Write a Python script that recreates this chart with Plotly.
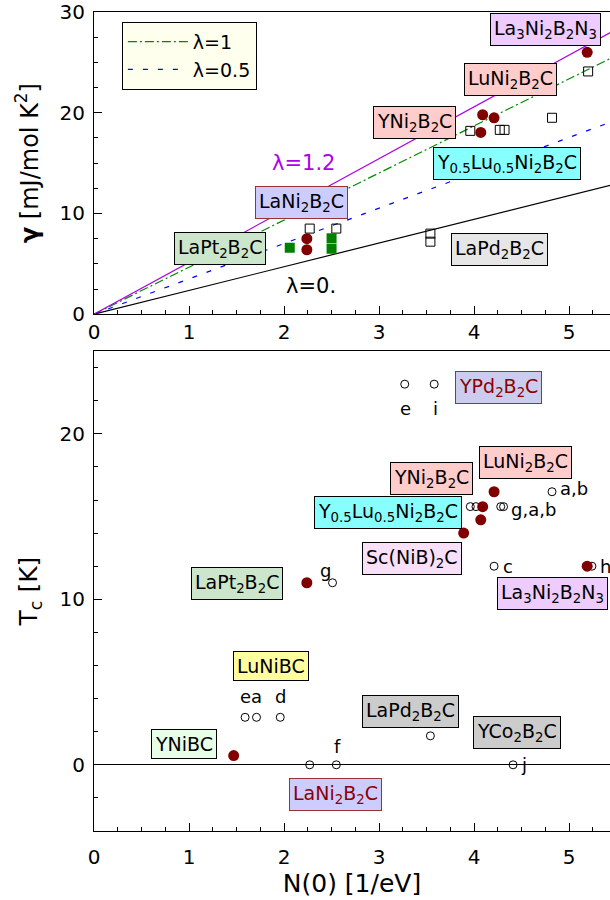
import plotly.graph_objects as go

# ---------------- data: top panel (gamma vs N(0)) ----------------
# theoretical lines gamma = c (1+lambda) N(0); values read at N(0)=5.5
line_N = [0, 5.5]
line_lambda = ["λ=0.", "λ=0.5", "λ=1", "λ=1.2"]
line_gamma_end = [12.96, 19.3, 25.7, 28.3]

top_red_N = [2.24, 2.24, 5.19, 4.09, 4.21, 4.07]
top_red_g = [7.5, 6.4, 26.0, 19.8, 19.5, 18.05]

top_sq_N = [5.20, 4.82, 3.96, 4.27, 4.32, 2.27, 2.55, 3.54, 3.54]
top_sq_g = [24.1, 19.5, 18.2, 18.3, 18.3, 8.5, 8.5, 8.0, 7.2]

top_green_N = [2.06, 2.50, 2.50]
top_green_g = [6.6, 7.55, 6.5]

# ---------------- data: bottom panel (Tc vs N(0)) ----------------
bot_red_N = [4.21, 4.09, 4.07, 3.89, 5.19, 2.24, 1.47]
bot_red_T = [16.5, 15.6, 14.8, 14.0, 12.0, 11.0, 0.56]

bot_open_N = [3.27, 3.58, 4.82, 3.96, 4.02, 4.28, 4.31, 4.21, 5.24, 2.51,
              1.59, 1.71, 1.96, 2.27, 2.55, 3.54, 4.41]
bot_open_T = [23.0, 23.0, 16.5, 15.6, 15.6, 15.6, 15.6, 12.0, 12.0, 11.0,
              2.87, 2.87, 2.87, 0.0, 0.0, 1.75, 0.0]

# compound labels: text, x, y, background, text colour, border colour
top_labels = [
    ("La<sub>3</sub>Ni<sub>2</sub>B<sub>2</sub>N<sub>3</sub>", 4.75, 28.3, "#eeccff", "black", "black"),
    ("LuNi<sub>2</sub>B<sub>2</sub>C", 4.38, 23.3, "#ffcccc", "black", "black"),
    ("YNi<sub>2</sub>B<sub>2</sub>C", 3.37, 19.0, "#ffcccc", "black", "black"),
    ("Y<sub>0.5</sub>Lu<sub>0.5</sub>Ni<sub>2</sub>B<sub>2</sub>C", 4.35, 14.95, "#88ffff", "black", "black"),
    ("LaPd<sub>2</sub>B<sub>2</sub>C", 4.27, 6.4, "#e6e6e6", "black", "black"),
    ("LaNi<sub>2</sub>B<sub>2</sub>C", 2.18, 11.1, "#ccccff", "black", "#993333"),
    ("LaPt<sub>2</sub>B<sub>2</sub>C", 1.33, 6.5, "#cce6cc", "black", "black"),
]
bot_labels = [
    ("YPd<sub>2</sub>B<sub>2</sub>C", 4.26, 22.8, "#ccccee", "#8b0000", "#993333"),
    ("LuNi<sub>2</sub>B<sub>2</sub>C", 4.54, 18.25, "#ffcccc", "black", "black"),
    ("YNi<sub>2</sub>B<sub>2</sub>C", 3.55, 17.3, "#ffcccc", "black", "black"),
    ("Y<sub>0.5</sub>Lu<sub>0.5</sub>Ni<sub>2</sub>B<sub>2</sub>C", 3.09, 15.25, "#88ffff", "black", "black"),
    ("Sc(NiB)<sub>2</sub>C", 3.35, 12.45, "#f8e0f8", "black", "black"),
    ("La<sub>3</sub>Ni<sub>2</sub>B<sub>2</sub>N<sub>3</sub>", 4.82, 10.33, "#eeccff", "black", "black"),
    ("LaPt<sub>2</sub>B<sub>2</sub>C", 1.51, 10.95, "#cce6cc", "black", "black"),
    ("LuNiBC", 1.86, 5.98, "#ffffa0", "black", "black"),
    ("YNiBC", 0.95, 1.26, "#e6ffe6", "black", "black"),
    ("LaPd<sub>2</sub>B<sub>2</sub>C", 3.33, 3.2, "#cccccc", "black", "black"),
    ("YCo<sub>2</sub>B<sub>2</sub>C", 4.45, 1.93, "#cccccc", "black", "black"),
    ("LaNi<sub>2</sub>B<sub>2</sub>C", 2.54, -1.8, "#ccccff", "#8b0000", "#993333"),
]
# reference letters next to open circles: text, x, y, anchor
ref_tags = [
    ("e", 3.28, 21.5, "center"), ("i", 3.59, 21.5, "center"),
    ("a,b", 4.88, 16.7, "left"), ("g,a,b", 4.37, 15.4, "left"),
    ("c", 4.28, 12.0, "left"), ("h", 5.30, 12.0, "left"),
    ("g", 2.44, 11.75, "center"),
    ("ea", 1.65, 4.1, "center"), ("d", 1.96, 4.1, "center"),
    ("f", 2.56, 1.1, "center"), ("j", 4.47, 0.0, "left"),
]

# ---------------- styles ----------------
FONT = "DejaVu Sans"
LBL = 19
line_styles = [
    dict(color="black", width=1.2, dash="solid"),
    dict(color="#0000ff", width=1.2, dash="5px,10px"),
    dict(color="#008800", width=1.2, dash="9px,3px,2px,3px"),
    dict(color="#b000e8", width=1.2, dash="solid"),
]
legend_show = [False, True, True, False]
MAROON = "#800000"

fig = go.Figure()

# legend order: lambda=1 first, then 0.5
for i in [2, 1, 0, 3]:
    fig.add_trace(go.Scatter(
        x=line_N, y=[0, line_gamma_end[i]], mode="lines",
        line=line_styles[i], name=line_lambda[i],
        showlegend=legend_show[i], xaxis="x", yaxis="y", hoverinfo="skip"))

fig.add_trace(go.Scatter(x=top_sq_N, y=top_sq_g, mode="markers", showlegend=False,
                         marker=dict(symbol="square-open", size=9, color="black",
                                     line=dict(width=1)), xaxis="x", yaxis="y"))
fig.add_trace(go.Scatter(x=top_green_N, y=top_green_g, mode="markers", showlegend=False,
                         marker=dict(symbol="square", size=10, color="#008000"),
                         xaxis="x", yaxis="y"))
fig.add_trace(go.Scatter(x=top_red_N, y=top_red_g, mode="markers", showlegend=False,
                         marker=dict(symbol="circle", size=11, color=MAROON),
                         xaxis="x", yaxis="y"))

fig.add_trace(go.Scatter(x=bot_open_N, y=bot_open_T, mode="markers", showlegend=False,
                         marker=dict(symbol="circle-open", size=8, color="black",
                                     line=dict(width=1)), xaxis="x2", yaxis="y2"))
fig.add_trace(go.Scatter(x=bot_red_N, y=bot_red_T, mode="markers", showlegend=False,
                         marker=dict(symbol="circle", size=11, color=MAROON),
                         xaxis="x2", yaxis="y2"))

annotations = []
for (t, x, y, bg, tc, bc) in top_labels:
    annotations.append(dict(text=t, x=x, y=y, xref="x", yref="y", showarrow=False,
                            bgcolor=bg, bordercolor=bc, borderwidth=1, borderpad=3,
                            font=dict(family=FONT, size=LBL, color=tc)))
for (t, x, y, bg, tc, bc) in bot_labels:
    annotations.append(dict(text=t, x=x, y=y, xref="x2", yref="y2", showarrow=False,
                            bgcolor=bg, bordercolor=bc, borderwidth=1, borderpad=3,
                            font=dict(family=FONT, size=LBL, color=tc)))
for (t, x, y, anc) in ref_tags:
    annotations.append(dict(text=t, x=x, y=y, xref="x2", yref="y2", showarrow=False,
                            xanchor=anc, font=dict(family=FONT, size=18, color="black")))
annotations.append(dict(text="λ=1.2", x=2.2, y=15.0, xref="x", yref="y", showarrow=False,
                        font=dict(family=FONT, size=21, color="#b000e8")))
annotations.append(dict(text="λ=0.", x=2.28, y=2.8, xref="x", yref="y", showarrow=False,
                        font=dict(family=FONT, size=21, color="black")))

axis_common = dict(showline=True, linecolor="black", linewidth=1.2, ticks="inside",
                   ticklen=8, tickcolor="black", tickwidth=1, showgrid=False,
                   zeroline=False, ticklabeloverflow="allow",
                   tickfont=dict(family=FONT, size=20, color="black"))

XR = [0, 5.43]
fig.update_layout(
    width=610, height=900,
    margin=dict(l=94, r=0, t=10, b=69),
    paper_bgcolor="white", plot_bgcolor="white",
    font=dict(family=FONT, color="black"),
    xaxis=dict(axis_common, domain=[0, 1], anchor="y", range=XR, dtick=1, mirror=True,
               minor=dict(dtick=0.25, ticklen=4, ticks="inside", tickcolor="black")),
    yaxis=dict(axis_common, domain=[0.631, 1], anchor="x", range=[0, 30.0001],
               tickvals=[0, 10, 20, 30], ticklabelstandoff=4,
               minor=dict(dtick=2.5, ticklen=4, ticks="inside", tickcolor="black"),
               title=dict(text="<b>γ</b> [mJ/mol K<sup>2</sup>]",
                          font=dict(family=FONT, size=24), standoff=14)),
    xaxis2=dict(axis_common, domain=[0, 1], anchor="y2", range=XR, dtick=1, mirror=True,
                ticklabelstandoff=8,
                minor=dict(dtick=0.25, ticklen=4, ticks="inside", tickcolor="black"),
                title=dict(text="N(0) [1/eV]", font=dict(family=FONT, size=25), standoff=4)),
    yaxis2=dict(axis_common, domain=[0, 0.586], anchor="x2", range=[-4, 25], dtick=10,
                zeroline=True, zerolinecolor="black", zerolinewidth=1.2,
                ticklabelstandoff=4,
                minor=dict(dtick=2, ticklen=4, ticks="inside", tickcolor="black"),
                title=dict(text="T<sub>c</sub> [K]", font=dict(family=FONT, size=25),
                           standoff=14)),
    legend=dict(x=0.054, y=0.988, xanchor="left", yanchor="top",
                bgcolor="#ffffee", bordercolor="black", borderwidth=1,
                font=dict(family=FONT, size=19, color="black"),
                tracegroupgap=0, itemwidth=60),
    annotations=annotations,
    showlegend=True,
)

fig.write_html("out.html")
